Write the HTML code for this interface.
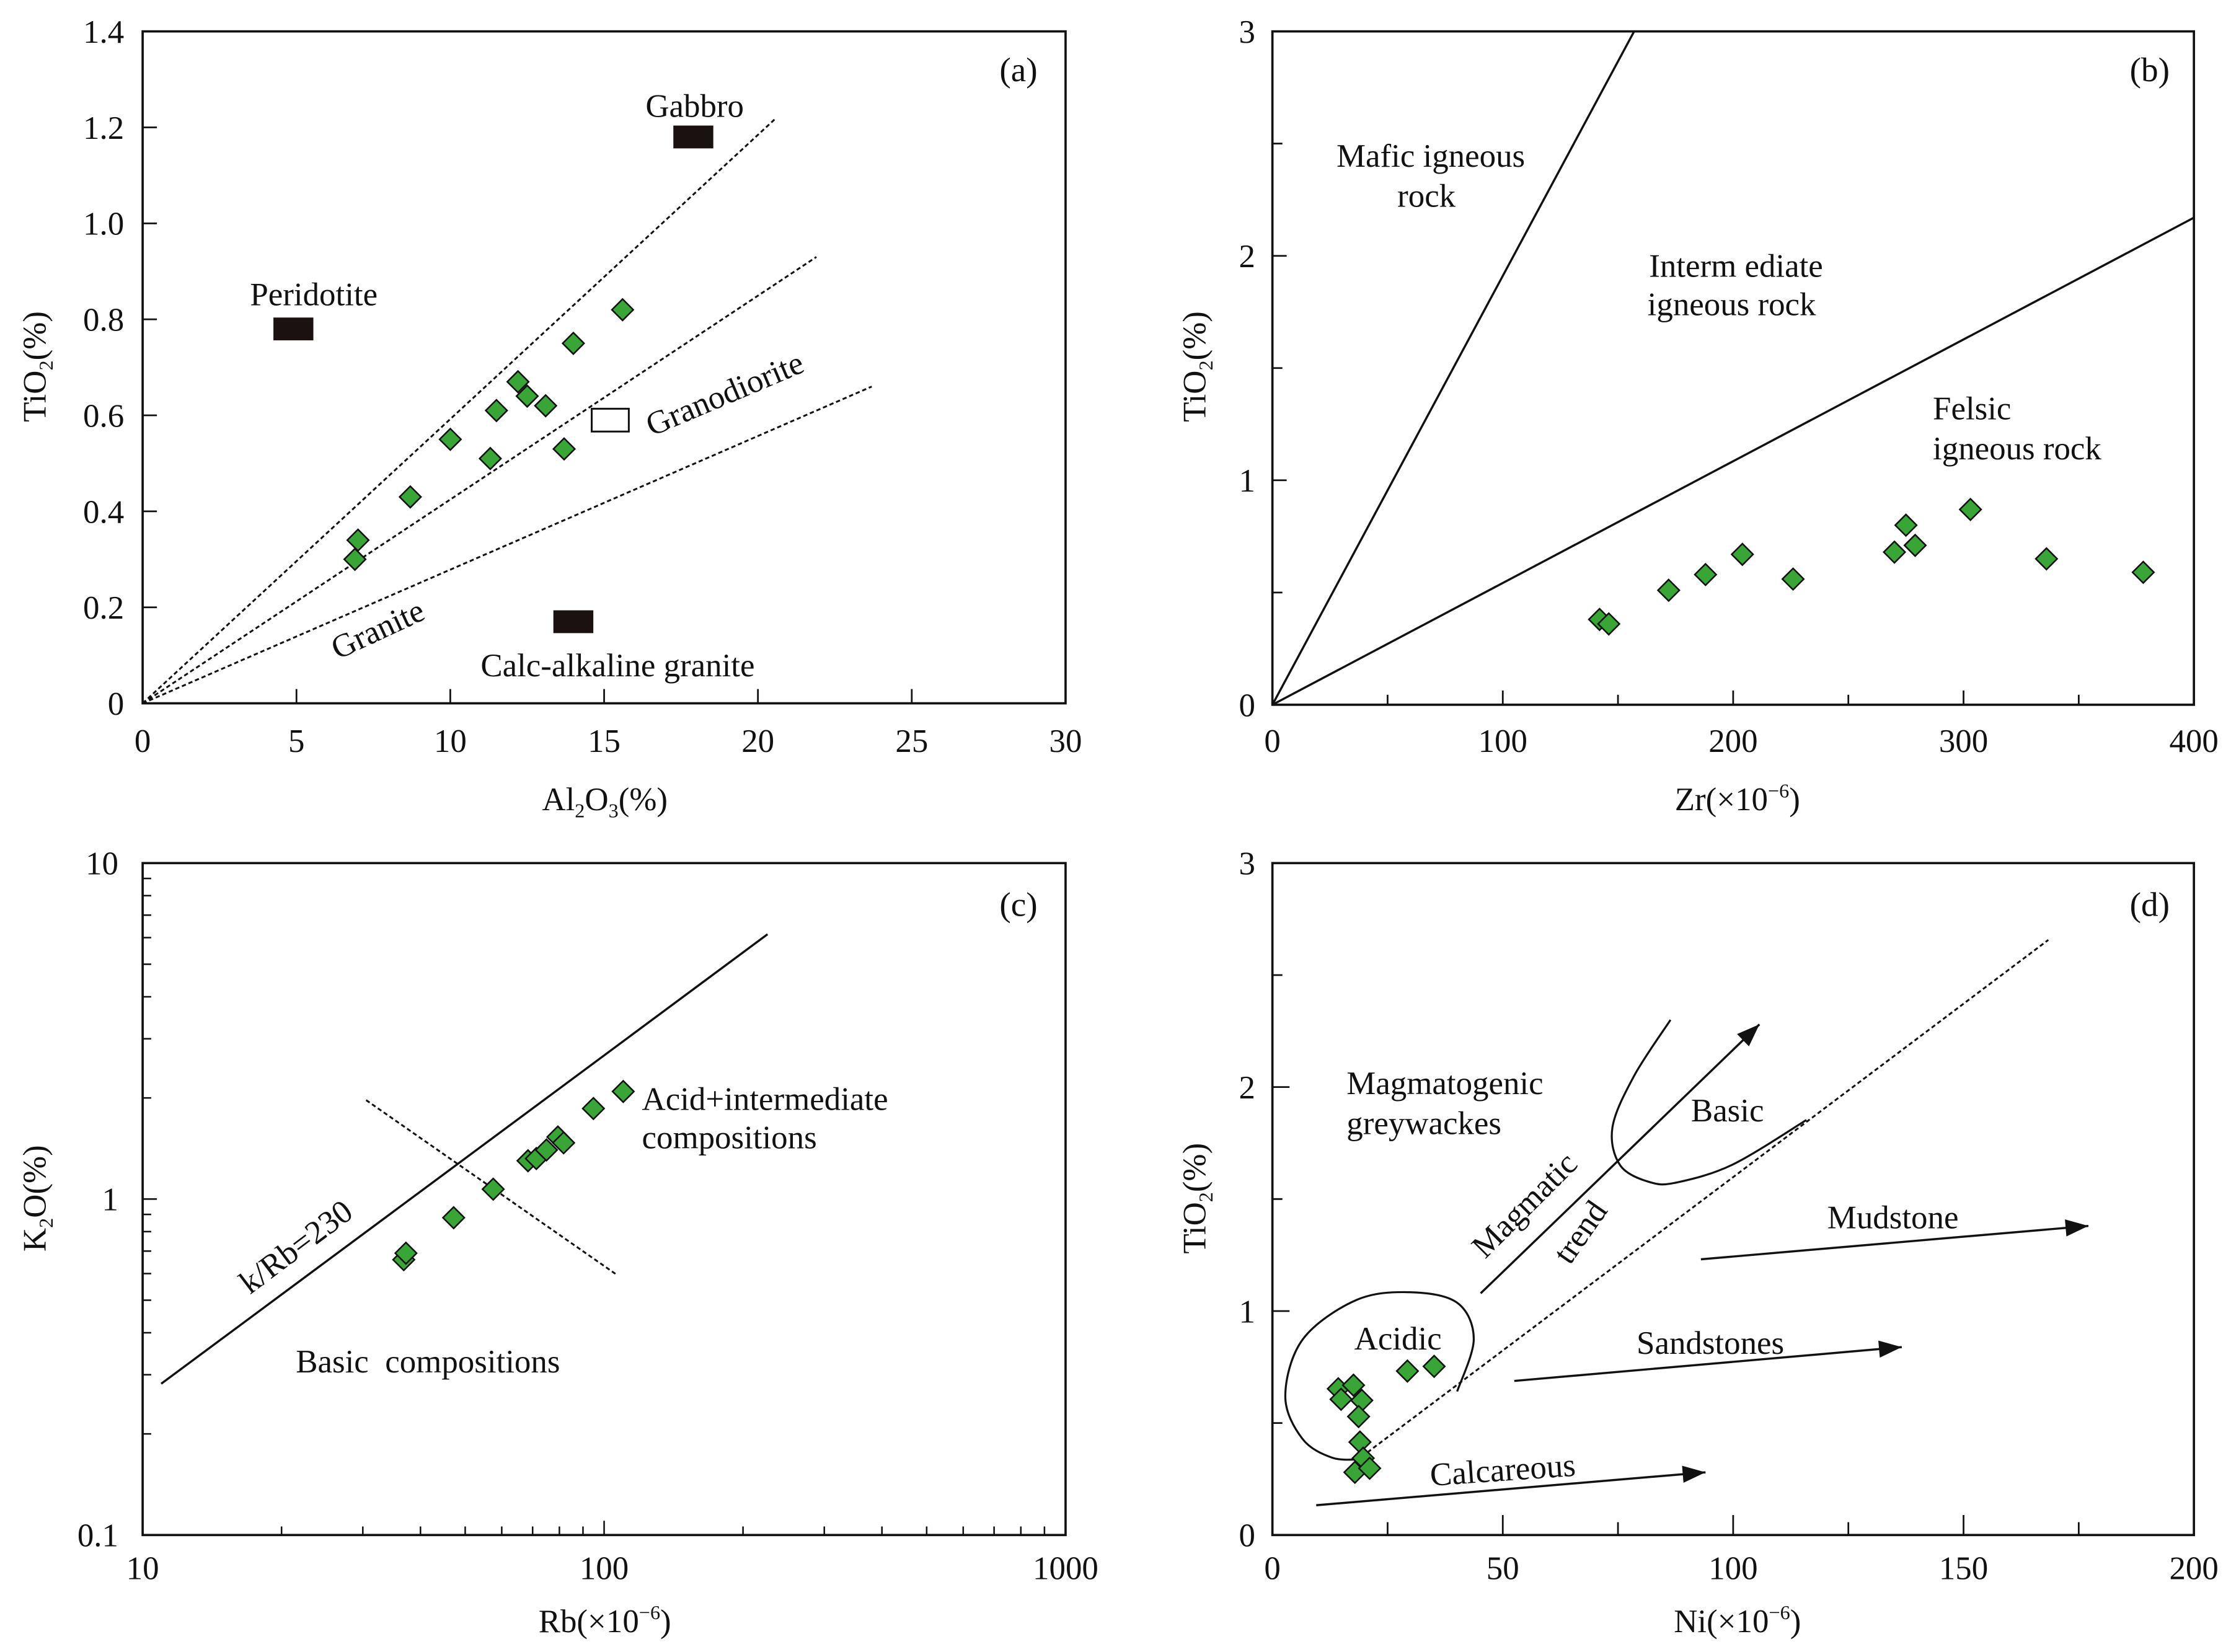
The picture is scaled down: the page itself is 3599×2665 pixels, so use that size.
<!DOCTYPE html>
<html><head><meta charset="utf-8"><style>
html,body{margin:0;padding:0;background:#fff;}
svg{display:block;}
</style></head><body>
<svg id="chart" width="3599" height="2665" viewBox="0 0 1564 1158" preserveAspectRatio="none" xmlns="http://www.w3.org/2000/svg"></svg>
<script>
// Panel (a) data
const aAl2O3 = [6.9, 7.0, 8.7, 10.0, 11.3, 11.5, 12.2, 12.5, 13.1, 13.7, 14.0, 15.6];
const aTiO2 = [0.30, 0.34, 0.43, 0.55, 0.51, 0.61, 0.67, 0.64, 0.62, 0.53, 0.75, 0.82];
const aXTicks = [0, 5, 10, 15, 20, 25, 30];
const aYTicks = [0, 0.2, 0.4, 0.6, 0.8, 1.0, 1.2, 1.4];
const aYTickLabels = ["0", "0.2", "0.4", "0.6", "0.8", "1.0", "1.2", "1.4"];
// Panel (b) data
const bZr = [142, 146, 172, 188, 204, 226, 270, 275, 279, 303, 336, 378];
const bTiO2 = [0.38, 0.36, 0.51, 0.58, 0.67, 0.56, 0.68, 0.80, 0.71, 0.87, 0.65, 0.59];
const bXTicks = [0, 100, 200, 300, 400];
const bYTicks = [0, 1, 2, 3];
// Panel (c) data
const cRb = [36.8, 37.2, 47.2, 57.5, 68.4, 71.3, 75, 79.4, 81.7, 94.8, 110];
const cK2O = [0.66, 0.69, 0.88, 1.07, 1.30, 1.32, 1.40, 1.53, 1.47, 1.86, 2.09];
const cXTicks = [10, 100, 1000];
const cYTicks = [0.1, 1, 10];
// Panel (d) data
const dNi = [14.3, 14.9, 17.6, 19.4, 18.7, 19.0, 19.7, 17.9, 21.1, 29.3, 35.1];
const dTiO2 = [0.653, 0.606, 0.669, 0.601, 0.529, 0.415, 0.343, 0.280, 0.298, 0.732, 0.753];
const dXTicks = [0, 50, 100, 150, 200];
const dYTicks = [0, 1, 2, 3];

const NS = "http://www.w3.org/2000/svg";
const svg = document.getElementById('chart');
const FS = 23;
function el(tag, attrs, parent) {
  const e = document.createElementNS(NS, tag);
  for (const k in attrs) e.setAttribute(k, attrs[k]);
  (parent || svg).appendChild(e);
  return e;
}
function txt(s, x, y, size, anchor, parent, rot) {
  const t = el('text', {x: x, y: y, 'font-size': size, 'text-anchor': anchor || 'middle', 'font-family': 'Liberation Serif, serif', fill: '#111'}, parent);
  if (rot) t.setAttribute('transform', 'rotate(' + rot + ' ' + x + ' ' + y + ')');
  t.innerHTML = s;
  return t;
}
function linScale(d0, d1, r0, r1) { return v => r0 + (v - d0) / (d1 - d0) * (r1 - r0); }
function logScale(d0, d1, r0, r1) { return v => r0 + (Math.log10(v) - Math.log10(d0)) / (Math.log10(d1) - Math.log10(d0)) * (r1 - r0); }
function diamond(x, y, g) {
  const s = 7.5;
  const d = el('polygon', {points: `${x},${y-s} ${x+s},${y} ${x},${y+s} ${x-s},${y}`, fill: '#3aa537', stroke: '#111', 'stroke-width': 1.1}, g);
  
  
}
function frame(g, L, T, R, B) {
  const r = el('rect', {x: L, y: T, width: R - L, height: B - T, fill: 'none', stroke: '#111', 'stroke-width': 1.6}, g);
  
  
}
function line(g, x1, y1, x2, y2, dashed, w) {
  return el('line', {x1: x1, y1: y1, x2: x2, y2: y2, stroke: '#111', 'stroke-width': w || (dashed ? 1.3 : 1.4), 'stroke-dasharray': dashed ? '3,2' : 'none'}, g);
}
function arrow(g, x1, y1, x2, y2) {
  line(g, x1, y1, x2, y2, false, 1.5);
  const a = Math.atan2(y2 - y1, x2 - x1), L = 16, W = 6;
  const bx = x2 - L * Math.cos(a), by = y2 - L * Math.sin(a);
  el('polygon', {points: `${x2},${y2} ${bx + W*Math.sin(a)},${by - W*Math.cos(a)} ${bx - W*Math.sin(a)},${by + W*Math.cos(a)}`, fill: '#111'}, g);
}
function smoothPath(pts) {
  let d = 'M' + pts[0][0] + ',' + pts[0][1];
  for (let i = 0; i < pts.length - 1; i++) {
    const p0 = pts[Math.max(0, i - 1)], p1 = pts[i], p2 = pts[i + 1], p3 = pts[Math.min(pts.length - 1, i + 2)];
    const c1 = [p1[0] + (p2[0] - p0[0]) / 6, p1[1] + (p2[1] - p0[1]) / 6];
    const c2 = [p2[0] - (p3[0] - p1[0]) / 6, p2[1] - (p3[1] - p1[1]) / 6];
    d += ' C' + c1[0] + ',' + c1[1] + ' ' + c2[0] + ',' + c2[1] + ' ' + p2[0] + ',' + p2[1];
  }
  return d;
}
function group(name) {
  const g = el('g', {});
  
  
  return g;
}

// ---------- Panel (a) ----------
(function(){
  const g = group('panel-a');
  const L=100,R=747,T=22,B=493;
  const X = linScale(0,30,L,R), Y = linScale(0,1.4,B,T);
  frame(g,L,T,R,B);
  aXTicks.forEach(v=>{ line(g,X(v),B,X(v),B-10,false,1.2); txt(String(v),X(v),527,FS,'middle',g); });
  aYTicks.forEach((v,i)=>{ line(g,L,Y(v),L+10,Y(v),false,1.2); txt(aYTickLabels[i],87,Y(v)+8,FS,'end',g); });
  [[20.6,1.22],[21.9,0.93],[23.7,0.66]].forEach(p=>{ const l=line(g,X(0),Y(0),X(p[0]),Y(p[1]),true);  });
  [[17.9,1.18],[4.9,0.78],[14.0,0.17]].forEach(p=>{ const r=el('rect',{x:X(p[0])-14,y:Y(p[1])-8,width:28,height:16,fill:'#1a1110'},g);  });
  el('rect',{x:X(15.2)-13,y:Y(0.59)-8,width:26,height:16,fill:'#fff',stroke:'#111','stroke-width':1.3},g);
  aAl2O3.forEach((v,i)=>diamond(X(v),Y(aTiO2[i]),g));
  txt('Gabbro',487,82,FS,'middle',g);
  txt('Peridotite',220,214,FS,'middle',g);
  txt('Granodiorite',511,283,FS,'middle',g,-23);
  txt('Granite',268,448,FS,'middle',g,-25);
  txt('Calc-alkaline granite',433,474,FS,'middle',g);
  txt('(a)',714,57,24,'middle',g);
  txt('Al<tspan font-size="14" dy="5">2</tspan><tspan dy="-5">O</tspan><tspan font-size="14" dy="5">3</tspan><tspan dy="-5">(%)</tspan>',424,568,FS,'middle',g);
  txt('TiO<tspan font-size="14" dy="5">2</tspan><tspan dy="-5">(%)</tspan>',32,257,FS,'middle',g,-90);
})();

// ---------- Panel (b) ----------
(function(){
  const g = group('panel-b');
  const L=892,R=1538,T=22,B=494;
  const X = linScale(0,400,L,R), Y = linScale(0,3,B,T);
  frame(g,L,T,R,B);
  for(let v=50; v<400; v+=50){ line(g,X(v),B,X(v),B-(v%100===0?10:7),false,1.2); }
  bXTicks.forEach(v=>txt(String(v),X(v),527,FS,'middle',g));
  for(let v=0.5; v<3; v+=0.5){ line(g,L,Y(v),L+(v%1===0?10:7),Y(v),false,1.2); }
  bYTicks.forEach(v=>txt(String(v),880,Y(v)+8,FS,'end',g));
  line(g,X(0),Y(0),X(157),Y(3),false,1.5);
  line(g,X(0),Y(0),X(400),Y(2.17),false,1.5);
  bZr.forEach((v,i)=>diamond(X(v),Y(bTiO2[i]),g));
  txt('Mafic igneous',1003,117,FS,'middle',g);
  txt('rock',1000,145,FS,'middle',g);
  txt('Interm ediate',1217,194,FS,'middle',g);
  txt('igneous rock',1214,221,FS,'middle',g);
  txt('Felsic',1355,294,FS,'start',g);
  txt('igneous rock',1355,322,FS,'start',g);
  txt('(b)',1507,57,24,'middle',g);
  txt('Zr(×10<tspan font-size="14" dy="-9">−6</tspan><tspan dy="9">)</tspan>',1218,568,FS,'middle',g);
  txt('TiO<tspan font-size="14" dy="5">2</tspan><tspan dy="-5">(%)</tspan>',845,257,FS,'middle',g,-90);
})();

// ---------- Panel (c) ----------
(function(){
  const g = group('panel-c');
  const L=100,R=747,T=605,B=1076;
  const X = logScale(10,1000,L,R), Y = logScale(0.1,10,B,T);
  frame(g,L,T,R,B);
  for(let d=10; d<1000; d*=10){ for(let k=1;k<10;k++){ const v=d*k; if(v<=10||v>=1000) continue; line(g,X(v),B,X(v),B-(k===1?10:6),false,1.1); } }
  for(let d=0.1; d<10; d*=10){ for(let k=1;k<10;k++){ const v=d*k; if(v<=0.1||v>=10) continue; line(g,L,Y(v),L+(k===1?10:6),Y(v),false,1.1); } }
  cXTicks.forEach(v=>txt(String(v),X(v),1107,FS,'middle',g));
  cYTicks.forEach(v=>txt(String(v),83,Y(v)+8,FS,'end',g));
  line(g,X(10.97),Y(0.282),X(226),Y(6.14),false,1.5);
  line(g,X(30.5),Y(1.97),X(106),Y(0.598),true);
  cRb.forEach((v,i)=>diamond(X(v),Y(cK2O[i]),g));
  txt('(c)',714,642,24,'middle',g);
  txt('Acid+intermediate',450,778,FS,'start',g);
  txt('compositions',450,805,FS,'start',g);
  txt('k/Rb=230',212,880,FS,'middle',g,-37);
  txt('Basic&#160;&#160;compositions',300,962,FS,'middle',g);
  txt('Rb(×10<tspan font-size="14" dy="-9">−6</tspan><tspan dy="9">)</tspan>',424,1144,FS,'middle',g);
  txt('K<tspan font-size="14" dy="5">2</tspan><tspan dy="-5">O(%)</tspan>',32,840,FS,'middle',g,-90);
})();

// ---------- Panel (d) ----------
(function(){
  const g = group('panel-d');
  const L=892,R=1538,T=605,B=1076;
  const X = linScale(0,200,L,R), Y = linScale(0,3,B,T);
  frame(g,L,T,R,B);
  for(let v=25; v<200; v+=25){ line(g,X(v),B,X(v),B-(v%50===0?14:9),false,1.2); }
  dXTicks.forEach(v=>txt(String(v),X(v),1107,FS,'middle',g));
  for(let v=0.5; v<3; v+=0.5){ line(g,L,Y(v),L+(v%1===0?12:7),Y(v),false,1.2); }
  dYTicks.forEach(v=>txt(String(v),880,Y(v)+8,FS,'end',g));
  line(g,X(19.4),Y(0.35),X(168.4),Y(2.657),true);
  arrow(g,X(45.2),Y(1.079),X(105.7),Y(2.28));
  arrow(g,X(93.0),Y(1.231),X(177.1),Y(1.38));
  arrow(g,X(52.5),Y(0.688),X(136.6),Y(0.839));
  arrow(g,X(9.5),Y(0.133),X(94.0),Y(0.280));
  const basic = [[86.4,2.30],[78.5,2.05],[73.8,1.82],[75.5,1.65],[82,1.575],[88,1.575],[100,1.655],[115.9,1.853]];
  const pb = el('path',{d:smoothPath(basic.map(p=>[X(p[0]),Y(p[1])])),fill:'none',stroke:'#111','stroke-width':1.4},g);
  
  const ac = [[19.5,0.338],[13,0.345],[6.5,0.43],[2.8,0.62],[6.6,0.874],[18.2,1.049],[29.9,1.084],[40.1,1.037],[43.7,0.874],[40.1,0.641]];
  const pa = el('path',{d:smoothPath(ac.map(p=>[X(p[0]),Y(p[1])])),fill:'none',stroke:'#111','stroke-width':1.4},g);
  
  dNi.forEach((v,i)=>diamond(X(v),Y(dTiO2[i]),g));
  txt('(d)',1507,642,24,'middle',g);
  txt('Magmatogenic',944,767,FS,'start',g);
  txt('greywackes',944,795,FS,'start',g);
  txt('Basic',1211,786,FS,'middle',g);
  txt('Magmatic',1074,850,FS,'middle',g,-45);
  txt('trend',1114,868,FS,'middle',g,-55);
  txt('Mudstone',1327,861,FS,'middle',g);
  txt('Sandstones',1199,949,FS,'middle',g);
  txt('Acidic',980,946,FS,'middle',g);
  txt('Calcareous',1054,1038,FS,'middle',g,-4);
  txt('Ni(×10<tspan font-size="14" dy="-9">−6</tspan><tspan dy="9">)</tspan>',1218,1144,FS,'middle',g);
  txt('TiO<tspan font-size="14" dy="5">2</tspan><tspan dy="-5">(%)</tspan>',845,840,FS,'middle',g,-90);
})();
</script>
</body></html>
